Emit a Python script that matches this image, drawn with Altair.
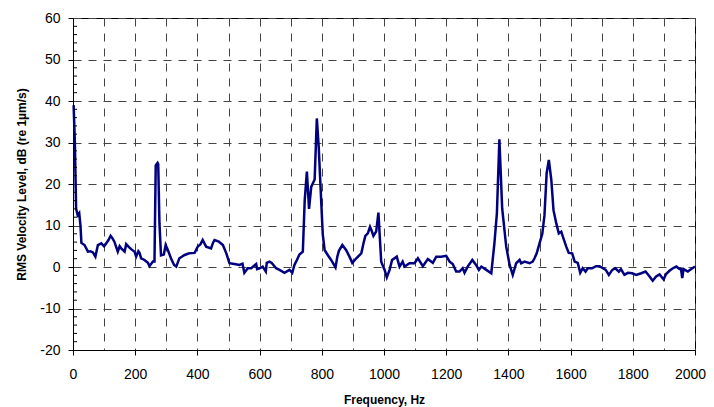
import altair as alt
import pandas as pd

freq_hz = [2, 6, 10, 15, 20, 24, 27, 37, 48, 56, 64, 72, 80, 91, 100, 107, 114, 121, 127, 133,
           144, 150, 155, 166, 171, 180, 187, 198, 203, 210, 214, 219, 230, 241, 246, 257, 262,
           266, 272, 274, 278, 283, 292, 298, 305, 315, 325, 332, 342, 359, 374, 391, 401, 410,
           417, 428, 444, 450, 455, 469, 482, 493, 503, 519, 535, 545, 551, 562, 573, 589, 592,
           600, 610, 620, 623, 632, 639, 653, 664, 680, 696, 705, 712, 720, 728, 739, 745, 752,
           759, 766, 777, 784, 790, 798, 803, 809, 819, 830, 844, 850, 855, 866, 878, 889, 898,
           911, 927, 935, 940, 948, 955, 960, 966, 975, 982, 991, 1002, 1009, 1018, 1026, 1041,
           1050, 1060, 1066, 1082, 1098, 1109, 1125, 1141, 1157, 1168, 1184, 1200, 1211, 1221,
           1232, 1243, 1253, 1259, 1269, 1284, 1296, 1305, 1313, 1329, 1345, 1355, 1363, 1371,
           1380, 1393, 1404, 1414, 1425, 1436, 1441, 1452, 1468, 1478, 1484, 1491, 1500, 1509,
           1516, 1523, 1530, 1538, 1545, 1554, 1562, 1570, 1577, 1586, 1594, 1605, 1613, 1623,
           1631, 1639, 1648, 1655, 1669, 1682, 1693, 1704, 1713, 1723, 1734, 1744, 1755, 1762,
           1773, 1784, 1798, 1811, 1827, 1841, 1854, 1864, 1875, 1886, 1899, 1907, 1918, 1929,
           1940, 1950, 1955, 1959, 1963, 1977, 1988, 2000]

level_db = [39, 30, 14, 12.5, 13, 10, 5.8, 5.3, 3.7, 3.8, 3.5, 2.5, 5.3, 5.7, 5.0, 5.7, 6.5, 7.5, 6.9, 6.1,
            3.7, 5.0, 4.5, 3.7, 5.5, 4.8, 4.3, 3.7, 2.5, 3.8, 3.4, 2.1, 1.7, 1.0, 0.2, 1.3, 1.3,
            24.5, 25.1, 24.8, 10.5, 2.8, 3.0, 5.3, 4.1, 2.1, 0.5, 0.1, 2.1, 2.9, 3.3, 3.4, 4.9, 5.5,
            6.5, 4.9, 4.5, 5.8, 6.5, 6.1, 5.3, 3.3, 0.9, 0.7, 0.5, 0.8, -1.4, -0.3, -0.3, 0.7, -0.5,
            -0.3, 0.1, -1.1, 1.0, 1.3, 1.0, -0.3, -0.7, -1.4, -0.7, -1.4, 0.5, 1.7, 3.0, 3.7, 16, 23,
            14, 19.3, 21.1, 35.8, 29, 16, 8, 4.1, 2.9, 1.7, -0.1, 2.5, 3.9, 5.3, 4.1, 2.5, 1.0,
            2.1, 3.3, 6, 7.5, 8.1, 9.7, 8.8, 7.5, 8.6, 13.1, 1.3, -0.7, -2.5, -0.7, 1.7, 2.5,
            0.1, 1.3, 0.1, 0.9, 0.9, 2.1, 0.2, 1.9, 1.0, 2.5, 2.5, 2.7, 1.3, 0.7,
            -1.1, -1.1, -0.3, -1.4, 0.1, 1.7, 0.5, -0.7, 0.1, -0.7, -1.5, 5.7, 12.9, 30.8,
            14.1, 4.9, 0.5, -1.9, 0.9, 1.7, 0.9, 1.3, 0.9, 1.3, 2.1, 3.3, 5.7, 8.0,
            12.5, 22.6, 25.8, 21, 13.7, 10.5, 8.1, 8.5, 6.9, 4.9, 3.4, 3.3, 1.3, 1.0,
            -1.4, -0.3, -1.1, -0.3, -0.3, 0.2, 0.2, -0.3, -0.7, -1.9, -0.7, -0.3, -1.1, -0.5,
            -1.9, -1.4, -1.5, -1.9, -1.5, -1.1, -2.3, -3.3, -2.3, -1.8, -3.0, -1.7, -0.9, -0.3,
            0.1, -0.5, -0.5, -2.7, -0.5, -1.1, -0.5, 0.1]

x_grid_values = list(range(0, 2001, 100))
y_major_values = list(range(-20, 61, 10))
y_minor_values = [v for v in range(-20, 61, 2) if v % 10 != 0]

df = pd.DataFrame({"freq": freq_hz, "db": level_db})
minor_df = pd.DataFrame({"db": y_minor_values})

W, H = 622, 332
FONT = "Liberation Sans"
Y_TITLE = "RMS Velocity Level, dB (re 1µm/s)"
x_scale = alt.Scale(domain=[0, 2000], nice=False, zero=False)
y_scale = alt.Scale(domain=[-20, 60], nice=False, zero=False)

x_enc = alt.X(
    "freq:Q",
    scale=x_scale,
    axis=alt.Axis(
        values=x_grid_values,
        labelExpr="datum.value % 200 == 0 ? '' + datum.value : ''",
        labelOverlap=False,
        labelFlush=False,
        labelOffset={"condition": {"test": "datum.value == 2000", "value": -5}, "value": 0},
        tickOpacity={"condition": {"test": "datum.value % 200 != 0", "value": 0}, "value": 1},
        tickSize=5,
        tickColor="black",
        domainColor="black",
        grid=True,
        gridDash=[8, 7],
        gridColor="#444444",
        gridOpacity=1,
        labelFontSize=14,
        labelColor="black",
        labelPadding=12,
        labelFont=FONT,
        title="Frequency, Hz",
        titleFont=FONT,
        titleFontSize=12,
        titleFontWeight="bold",
        titleColor="black",
        titleBaseline="alphabetic",
        titleY=53,
    ),
)

y_enc = alt.Y(
    "db:Q",
    scale=y_scale,
    axis=alt.Axis(
        values=y_major_values,
        labelExpr="'' + datum.value",
        labelFlush=False,
        tickSize=5,
        tickColor="black",
        domainColor="black",
        grid=True,
        gridDash=[8, 7],
        gridColor="#444444",
        gridOpacity=1,
        labelFontSize=14,
        labelColor="black",
        labelPadding=8,
        labelFont=FONT,
        title=Y_TITLE,
        titleFont=FONT,
        titleFontSize=12,
        titleFontWeight="bold",
        titleColor="black",
        titleBaseline="alphabetic",
        titleX=-48,
    ),
)

line = alt.Chart(df).mark_line(color="#000080", strokeWidth=2.5).encode(x=x_enc, y=y_enc)

minor = alt.Chart(minor_df).mark_rule(color="black", strokeWidth=1).encode(
    y=alt.Y("db:Q", scale=y_scale, title=Y_TITLE),
    x=alt.value(0),
    x2=alt.value(4),
)

chart = (
    alt.layer(line, minor)
    .properties(
        width=W,
        height=H,
        autosize=alt.AutoSizeParams(type="none"),
        padding={"left": 65, "top": 10, "right": 11, "bottom": 57},
        background="white",
    )
    .configure_view(stroke="black", strokeWidth=1)
)

chart.save("out.html", embed_options={"renderer": "svg", "actions": False})
